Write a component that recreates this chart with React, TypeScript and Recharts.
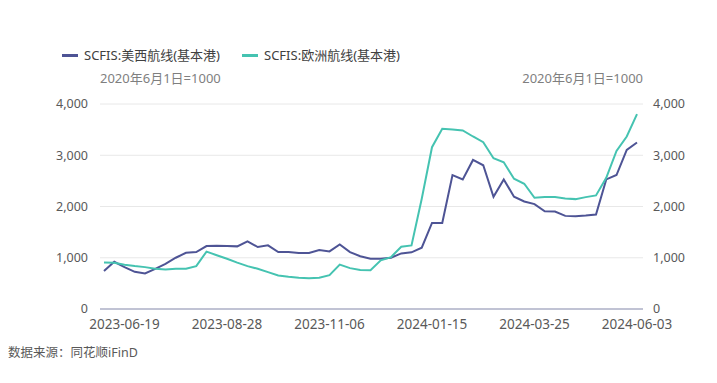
import React from 'react';
import { LineChart, Line, XAxis, YAxis, CartesianGrid } from 'recharts';

const dates = [
  '2023-06-05', '2023-06-12', '2023-06-19', '2023-06-26', '2023-07-03', '2023-07-10', '2023-07-17',
  '2023-07-24', '2023-07-31', '2023-08-07', '2023-08-14', '2023-08-21', '2023-08-28', '2023-09-04',
  '2023-09-11', '2023-09-18', '2023-09-25', '2023-10-02', '2023-10-09', '2023-10-16', '2023-10-23',
  '2023-10-30', '2023-11-06', '2023-11-13', '2023-11-20', '2023-11-27', '2023-12-04', '2023-12-11',
  '2023-12-18', '2023-12-25', '2024-01-01', '2024-01-08', '2024-01-15', '2024-01-22', '2024-01-29',
  '2024-02-05', '2024-02-12', '2024-02-19', '2024-02-26', '2024-03-04', '2024-03-11', '2024-03-18',
  '2024-03-25', '2024-04-01', '2024-04-08', '2024-04-15', '2024-04-22', '2024-04-29', '2024-05-06',
  '2024-05-13', '2024-05-20', '2024-05-27', '2024-06-03',
];

// SCFIS 美西航线(基本港)
const usWest = [
  740, 922, 817, 725, 695, 784, 882, 1000, 1098, 1111, 1229, 1235, 1229, 1222,
  1320, 1209, 1242, 1111, 1111, 1092, 1092, 1150, 1124, 1261, 1111, 1030, 980,
  980, 1000, 1085, 1105, 1196, 1680, 1680, 2614, 2529, 2908, 2804, 2190, 2529,
  2190, 2098, 2046, 1908, 1902, 1817, 1810, 1824, 1843, 2529, 2614, 3105, 3248,
];

// SCFIS 欧洲航线(基本港)
const europe = [
  908, 902, 863, 837, 817, 784, 771, 784, 784, 837, 1120, 1050, 980, 905,
  837, 784, 719, 654, 627, 608, 601, 608, 660, 865, 797, 760, 755,
  950, 1013, 1216, 1240, 2150, 3157, 3516, 3503, 3484, 3366, 3255, 2941, 2863,
  2542, 2444, 2170, 2183, 2183, 2157, 2144, 2183, 2216, 2560, 3085, 3366, 3804,
];

const tickLabels = ['2023-06-19', '2023-08-28', '2023-11-06', '2024-01-15', '2024-03-25', '2024-06-03'];
const yTicks = [0, 1000, 2000, 3000, 4000];

const data = dates.map((d, i) => ({ date: d, usWest: usWest[i], europe: europe[i] }));

const FONT = '"Noto Sans", "Noto Sans CJK SC", sans-serif';
const DARK = '#4e5495';
const TEAL = '#45c3b1';

const fmt = (v: number) => v.toLocaleString('en-US');

const XTick = (props: any) => {
  const { x, y, payload } = props;
  if (!tickLabels.includes(payload.value)) return <g />;
  return (
    <text x={x} y={y} dy="0.71em" textAnchor="middle" fill="#595959" fontSize={13.5} fontFamily={FONT}>
      {payload.value}
    </text>
  );
};

const LegendItem = ({ left, color, label }: { left: number; color: string; label: string }) => (
  <div style={{ position: 'absolute', left, top: 47, height: 16, display: 'flex', alignItems: 'center' }}>
    <div style={{ width: 16, height: 3, background: color, marginRight: 6 }} />
    <span style={{ fontSize: 13, color: '#404040', lineHeight: '16px', whiteSpace: 'nowrap' }}>{label}</span>
  </div>
);

export default function App() {
  return (
    <div style={{ position: 'absolute', left: 0, top: 0, width: 717, height: 383, background: '#fff', fontFamily: FONT }}>
      <LegendItem left={62} color={DARK} label="SCFIS:美西航线(基本港)" />
      <LegendItem left={242} color={TEAL} label="SCFIS:欧洲航线(基本港)" />
      <div style={{ position: 'absolute', left: 100, top: 70, fontSize: 13, lineHeight: '16px', color: '#7f7f7f' }}>
        2020年6月1日=1000
      </div>
      <div style={{ position: 'absolute', right: 717 - 643, top: 70, fontSize: 13, lineHeight: '16px', color: '#7f7f7f', textAlign: 'right' }}>
        2020年6月1日=1000
      </div>
      <div style={{ position: 'absolute', left: 0, top: 0 }}>
        <LineChart width={717} height={383} data={data} margin={{ top: 104, right: 24, bottom: 44, left: 50 }}>
          <CartesianGrid yAxisId="left" vertical={false} stroke="#e8e8e8" />
          <XAxis
            dataKey="date"
            interval={0}
            tick={<XTick />}
            tickLine={false}
            tickMargin={4}
            axisLine={{ stroke: '#8e93b5' }}
            height={30}
            padding={{ left: 4, right: 6 }}
          />
          <YAxis
            yAxisId="left"
            domain={[0, 4000]}
            ticks={yTicks}
            width={50}
            axisLine={false}
            tickLine={false}
            tickMargin={6}
            tickFormatter={fmt}
            tick={{ fill: '#595959', fontSize: 12.5, fontFamily: FONT }}
          />
          <YAxis
            yAxisId="right"
            orientation="right"
            domain={[0, 4000]}
            ticks={yTicks}
            width={50}
            axisLine={false}
            tickLine={false}
            tickMargin={4}
            tickFormatter={fmt}
            tick={{ fill: '#595959', fontSize: 12.5, fontFamily: FONT, textAnchor: 'start' }}
          />
          <Line yAxisId="left" type="linear" dataKey="usWest" stroke={DARK} strokeWidth={2} dot={false} isAnimationActive={false} />
          <Line yAxisId="right" type="linear" dataKey="europe" stroke={TEAL} strokeWidth={2} dot={false} isAnimationActive={false} />
        </LineChart>
      </div>
      <div style={{ position: 'absolute', left: 8, top: 345, fontSize: 12.5, lineHeight: '16px', color: '#595959' }}>
        数据来源：同花顺iFinD
      </div>
    </div>
  );
}
